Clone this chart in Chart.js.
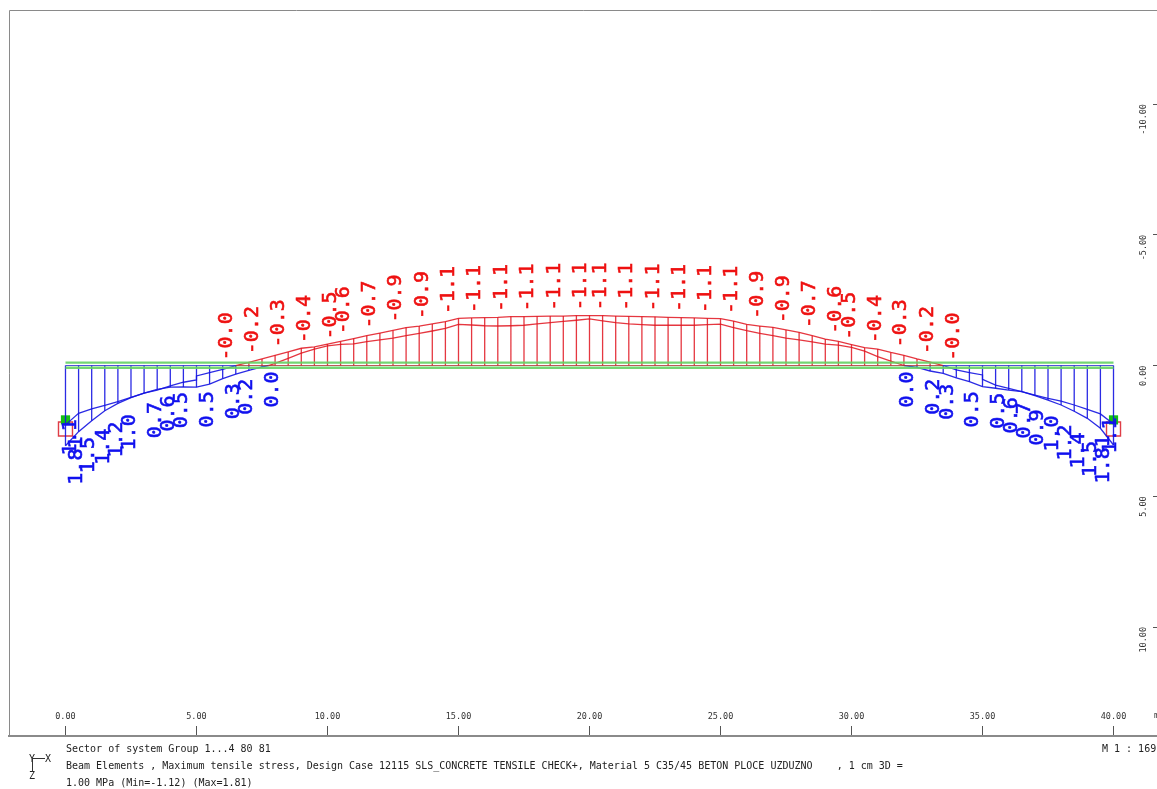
<!DOCTYPE html>
<html><head><meta charset="utf-8">
<style>
html,body{margin:0;padding:0;background:#fff;width:1157px;height:789px;overflow:hidden}
#c{position:absolute;left:0;top:0}
.t{position:absolute;font:10px "DejaVu Sans Mono",monospace;color:#222;white-space:pre;line-height:12px}
</style>
<script src="https://cdn.jsdelivr.net/npm/chart.js@4"></script>
</head><body>
<canvas id="c" width="1157" height="789"></canvas>
<div class="t" style="left:66px;top:743px">Sector of system Group 1...4 80 81</div>
<div class="t" style="left:66px;top:760px">Beam Elements , Maximum tensile stress, Design Case 12115 SLS_CONCRETE TENSILE CHECK+, Material 5 C35/45 BETON PLOCE UZDUZNO    , 1 cm 3D =</div>
<div class="t" style="left:66px;top:777px">1.00 MPa (Min=-1.12) (Max=1.81)</div>
<div class="t" style="left:1102px;top:743px">M 1 : 169</div>
<div class="t" style="left:29px;top:753px">Y</div>
<div class="t" style="left:45px;top:753px">X</div>
<div class="t" style="left:29px;top:770px">Z</div>
<div style="position:absolute;left:33px;top:758px;width:12px;height:1px;background:#333"></div>
<div style="position:absolute;left:32px;top:758px;width:1px;height:14px;background:#333"></div>
<script>
const xTickValues=[0,5,10,15,20,25,30,35,40];
const yTickValues=[-10,-5,0,5,10];

const blueOuterLeftX=[0,.5,1,1.5,2,2.5,3,3.5,4,4.5,5,5.5,6,6.5,7,7.5,7.75];
const blueOuterLeftY=[3.07,2.53,2.11,1.73,1.45,1.23,1.06,.91,.83,.82,.83,.71,.50,.33,.19,.05,0];
const blueInnerLeftX=[0,.5,1,1.5,2,2.5,3,3.5,4,4.5,5,5,5.5,6,6.5];
const blueInnerLeftY=[2.27,1.83,1.66,1.52,1.38,1.22,1.06,.94,.78,.64,.55,.40,.27,.15,0];
const blueOuterRightX=[32,32.5,33,33.5,34,34.5,35,35.5,36,36.5,37,37.5,38,38.5,39,39.5,40];
const blueOuterRightY=[0,.07,.21,.30,.47,.62,.81,.87,.94,1.0,1.15,1.32,1.51,1.75,2.02,2.40,3.04];
const blueInnerRightX=[33.5,34,34.5,35,35,35.5,36,36.5,37,37.5,38,38.5,39,39.5,40];
const blueInnerRightY=[0,.17,.27,.36,.53,.75,.87,1.0,1.13,1.26,1.36,1.51,1.68,1.85,2.24];

const redUpperX=[6.5,7,7.5,8,8.5,9,9.5,10,10.5,11,11.5,12,12.5,13,13.5,14,14.5,15,15.5,16,16.5,17,17.5,18,18.5,19,19.5,20,20.5,21,21.5,22,22.5,23,23.5,24,24.5,25,25.5,26,26.5,27,27.5,28,28.5,29,29.5,30,30.5,31,31.5,32,32.5,33,33.5];
const redUpperY=[0,-.12,-.25,-.39,-.52,-.66,-.71,-.82,-.92,-1.03,-1.14,-1.24,-1.34,-1.45,-1.51,-1.59,-1.68,-1.80,-1.82,-1.83,-1.84,-1.87,-1.87,-1.88,-1.89,-1.89,-1.91,-1.91,-1.91,-1.89,-1.88,-1.87,-1.86,-1.84,-1.83,-1.82,-1.80,-1.79,-1.70,-1.57,-1.51,-1.46,-1.36,-1.27,-1.14,-1.01,-.92,-.80,-.68,-.63,-.50,-.39,-.25,-.13,0];
const redLowerX=[7.75,8,8.5,9,9.5,10,10.5,11,11.5,12,12.5,13,13.5,14,14.5,15,15.5,16,16.5,17,17.5,18,18.5,19,19.5,20,20.5,21,21.5,22,22.5,23,23.5,24,24.5,25,25.5,26,26.5,27,27.5,28,28.5,29,29.5,30,30.5,31,31.5,32];
const redLowerY=[0,-.08,-.27,-.47,-.63,-.75,-.81,-.83,-.91,-.98,-1.05,-1.14,-1.23,-1.32,-1.42,-1.57,-1.55,-1.52,-1.51,-1.52,-1.54,-1.59,-1.64,-1.69,-1.73,-1.78,-1.71,-1.64,-1.59,-1.56,-1.54,-1.54,-1.54,-1.54,-1.56,-1.58,-1.45,-1.33,-1.23,-1.14,-1.05,-.98,-.90,-.82,-.78,-.69,-.55,-.34,-.17,0];

const redLabelText=["-0.0","-0.2","-0.3","-0.4","-0.5","-0.6","-0.7","-0.9","-0.9","-1.1","-1.1","-1.1","-1.1","-1.1","-1.1","-1.1","-1.1","-1.1","-1.1","-1.1","-1.1","-0.9","-0.9","-0.7","-0.6","-0.5","-0.4","-0.3","-0.2","-0.0"];
const redLabelX=[6.13,7.11,8.10,9.09,10.1,10.59,11.58,12.58,13.61,14.6,15.6,16.62,17.61,18.63,19.64,20.4,21.39,22.41,23.42,24.41,25.4,26.38,27.37,28.38,29.37,29.88,30.87,31.85,32.87,33.86];
const redLabelY=[-.25,-.49,-.75,-.91,-1.05,-1.25,-1.47,-1.70,-1.83,-2.02,-2.06,-2.10,-2.12,-2.15,-2.16,-2.16,-2.15,-2.12,-2.10,-2.06,-2.03,-1.84,-1.67,-1.48,-1.27,-1.04,-.91,-.75,-.49,-.24];

const blueLabelText=["1.1","1.81","1.5","1.4","1.2","1.0","0.7","0.6","0.5","0.5","0.3","0.2","0.0","0.0","0.2","0.3","0.5","0.5","0.6","0.7","0.9","1.0","1.2","1.4","1.5","1.81","1.1"];
const blueLabelX=[.15,.40,.86,1.42,1.92,2.40,3.39,3.92,4.41,5.39,6.38,6.89,7.89,32.11,33.1,33.63,34.59,35.59,36.09,36.58,37.08,37.65,38.15,38.65,39.1,39.6,39.87];
const blueLabelY=[3.38,4.50,4.06,3.74,3.46,3.19,2.72,2.47,2.34,2.31,2.0,1.83,1.55,1.55,1.83,2.02,2.31,2.36,2.54,2.73,3.0,3.23,3.58,3.88,4.21,4.45,3.31];

const beamStartEnd=[0,40];
const redBaseX=[6.5,33.5];
const blueBaseLeftX=[0,6.5];
const blueBaseRightX=[33.5,40];
const greenUpperY=-.11, greenLowerY=.085;
const supportX=[0,40];
const supportRedY=2.43, supportGreenY=2.08;

const BLUE='rgba(20,20,225,0.9)', RED='rgba(225,20,30,0.85)', GREEN='rgba(100,210,100,0.9)';
const zip=(xs,ys)=>xs.map((x,i)=>({x,y:ys[i]}));
const flat=(xs,v)=>xs.map(x=>({x,y:v}));
function hatch(xs,ys,from,to){
  const out=[];
  xs.forEach((x,i)=>{
    if(x*2%1!==0||x<from||x>to)return;
    out.push({x,y:0},{x,y:ys[i]},{x,y:null});
  });
  return out;
}
const line=(data,color,width,order)=>({data,borderColor:color,borderWidth:width,showLine:true,pointRadius:0,tension:0,spanGaps:false,order:order||0});
const box=(data,border,fill,r,w)=>({data,showLine:false,pointStyle:'rect',pointRadius:r,pointBorderColor:border,pointBackgroundColor:fill,pointBorderWidth:w,order:5});

const textPlugin={
  id:'frameAndLabels',
  beforeDatasetsDraw(chart){
    const g=chart.ctx,a=chart.chartArea;
    g.save();g.strokeStyle='#8a8a8a';g.lineWidth=1;
    g.beginPath();g.moveTo(a.left+.5,a.bottom);g.lineTo(a.left+.5,a.top+.5);g.lineTo(a.right,a.top+.5);g.stroke();
    g.restore();
  },
  afterDatasetsDraw(chart){
    const g=chart.ctx,sx=chart.scales.x,sy=chart.scales.y;
    const draw=(txt,xs,ys,col)=>{
      txt.forEach((t,i)=>{
        g.save();
        g.translate(sx.getPixelForValue(xs[i])+1,sy.getPixelForValue(ys[i])+1.5);
        g.rotate(-Math.PI/2);
        g.textAlign='left';g.textBaseline='middle';
        g.font='20px "DejaVu Sans Mono"';g.fillStyle=col;g.strokeStyle=col;g.lineWidth=.6;
        g.fillText(t,0,0);g.strokeText(t,0,0);
        g.restore();
      });
    };
    draw(redLabelText,redLabelX,redLabelY,'#ee1111');
    draw(blueLabelText,blueLabelX,blueLabelY,'#1111ee');
    g.save();g.font='8.5px "DejaVu Sans Mono"';g.fillStyle='#333';g.textBaseline='middle';
    g.fillText('m',1154,716);g.restore();
  }
};

new Chart(document.getElementById('c'),{
  type:'scatter',
  data:{datasets:[
    box(flat(supportX,supportGreenY),'#12c012','#12c012',6.5,0),
    box(flat(supportX,supportRedY),'rgba(220,40,50,.9)','rgba(0,0,0,0)',9.9,1.4),
    line(hatch(blueOuterLeftX,blueOuterLeftY,0,7.5),BLUE,1.3),
    line(hatch(blueOuterRightX,blueOuterRightY,32.5,40),BLUE,1.3),
    line(hatch(redUpperX,redUpperY,7,33),RED,1.3),
    line(zip(blueOuterLeftX,blueOuterLeftY),BLUE,1.3),
    line(zip(blueInnerLeftX,blueInnerLeftY),BLUE,1.3),
    line(zip(blueOuterRightX,blueOuterRightY),BLUE,1.3),
    line(zip(blueInnerRightX,blueInnerRightY),BLUE,1.3),
    line(zip(redUpperX,redUpperY),RED,1.3),
    line(zip(redLowerX,redLowerY),RED,1.3),
    line(flat(beamStartEnd,greenUpperY),GREEN,2.4,-1),
    line(flat(beamStartEnd,greenLowerY),GREEN,2.4,-1),
    line(flat(redBaseX,0),'rgba(170,50,50,.8)',1,-2),
    line(flat(blueBaseLeftX,0),'rgba(40,40,210,.8)',1,-2),
    line(flat(blueBaseRightX,0),'rgba(40,40,210,.8)',1,-2)
  ]},
  plugins:[textPlugin],
  options:{
    responsive:false,animation:false,
    layout:{autoPadding:false,padding:{left:9,top:10,right:0,bottom:53}},
    plugins:{legend:{display:false},tooltip:{enabled:false}},
    scales:{
      x:{type:'linear',position:'bottom',min:-2.156,max:41.66,
        afterBuildTicks(s){s.ticks=xTickValues.map(value=>({value}));},
        afterFit(s){s.height=0;s.paddingLeft=0;s.paddingRight=0;},
        border:{color:'#8a8a8a',width:2},
        grid:{display:true,drawOnChartArea:false,drawTicks:true,tickLength:-10,tickColor:'#555',tickWidth:1},
        ticks:{mirror:true,padding:14,maxRotation:0,minRotation:0,autoSkip:false,color:'#333',font:{family:'"DejaVu Sans Mono"',size:8.5},callback:v=>v.toFixed(2)}
      },
      y:{type:'linear',position:'right',reverse:true,min:-13.595,max:14.168,
        afterBuildTicks(s){s.ticks=yTickValues.map(value=>({value}));},
        afterFit(s){s.width=0;s.paddingTop=0;s.paddingBottom=0;},
        border:{display:false},
        grid:{display:true,drawOnChartArea:false,drawTicks:true,tickLength:-4,tickColor:'#555',tickWidth:1},
        ticks:{mirror:true,padding:-13,minRotation:90,maxRotation:90,autoSkip:false,color:'#333',font:{family:'"DejaVu Sans Mono"',size:8.5},callback:v=>v.toFixed(2)}
      }
    }
  }
});
</script>
</body></html>
